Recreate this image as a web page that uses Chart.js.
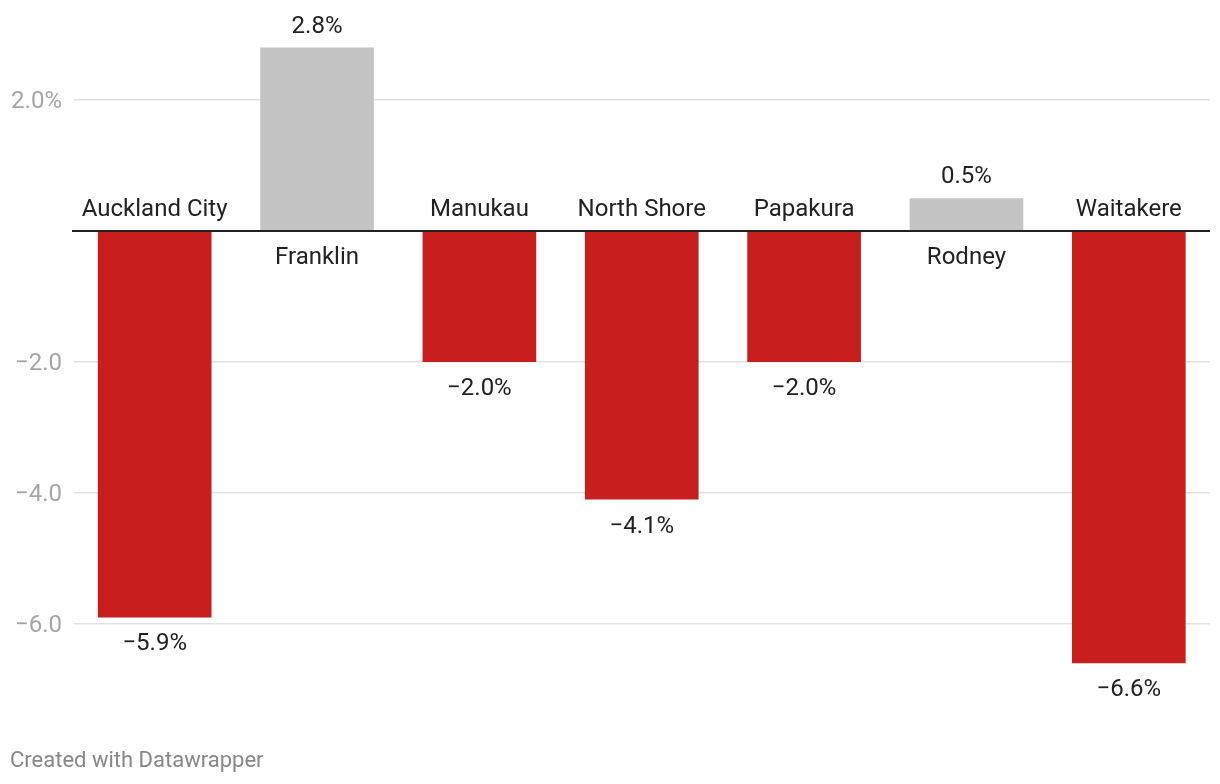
<!DOCTYPE html>
<html>
<head>
<meta charset="utf-8">
<script src="https://cdn.jsdelivr.net/npm/chart.js@4"></script>
<style>
  body { margin: 0; background: #fff; }
  canvas { display: block; }
</style>
</head>
<body>
<canvas id="chart" width="1220" height="784"></canvas>
<script>
const districts = ['Auckland City', 'Franklin', 'Manukau', 'North Shore', 'Papakura', 'Rodney', 'Waitakere']
const change = [-5.9, 2.8, -2.0, -4.1, -2.0, 0.5, -6.6]
const yTicks = [2, 0, -2, -4, -6]

const RED = '#c81e1e'
const GREY = '#c4c4c4'
const FONT = 'Roboto, "Noto Sans", sans-serif'

function fmtValue(v) {
  const s = Math.abs(v).toFixed(1) + '%'
  return v < 0 ? '\u2212' + s : s
}

const labelPlugin = {
  id: 'labelPlugin',
  afterDatasetsDraw(chart) {
    const ctx = chart.ctx
    const x = chart.scales.x
    const y = chart.scales.y
    const zero = y.getPixelForValue(0)

    // zero baseline
    ctx.save()
    ctx.strokeStyle = '#222'
    ctx.lineWidth = 2
    ctx.beginPath()
    ctx.moveTo(72, zero)
    ctx.lineTo(chart.chartArea.right, zero)
    ctx.stroke()

    ctx.font = '24px ' + FONT
    ctx.fillStyle = '#222'
    ctx.textAlign = 'center'
    ctx.textBaseline = 'alphabetic'
    districts.forEach((name, i) => {
      const cx = x.getPixelForValue(i)
      const v = change[i]
      const end = y.getPixelForValue(v)
      if (v >= 0) {
        ctx.fillText(fmtValue(v), cx, end - 15)
        ctx.fillText(name, cx, zero + 33)
      } else {
        ctx.fillText(name, cx, zero - 15)
        ctx.fillText(fmtValue(v), cx, end + 33)
      }
    })

    ctx.font = '22px ' + FONT
    ctx.fillStyle = '#888'
    ctx.textAlign = 'left'
    ctx.fillText('Created with Datawrapper', 10, 767)
    ctx.restore()
  }
}

new Chart(document.getElementById('chart'), {
  type: 'bar',
  data: {
    labels: districts,
    datasets: [{
      data: change,
      backgroundColor: change.map(v => v < 0 ? RED : GREY),
      categoryPercentage: 1,
      barPercentage: 0.7
    }]
  },
  options: {
    responsive: false,
    animation: false,
    layout: { padding: { left: 0, right: 10, top: 34.5, bottom: 94.5 } },
    plugins: { legend: { display: false }, tooltip: { enabled: false } },
    scales: {
      x: { display: false },
      y: {
        min: -7,
        max: 3,
        border: { display: false },
        afterFit(scale) { scale.width = 73.5 },
        afterBuildTicks(scale) { scale.ticks = yTicks.map(v => ({ value: v })) },
        grid: {
          drawTicks: false,
          lineWidth: 1.5,
          color: ctx => ctx.tick && ctx.tick.value === 0 ? 'rgba(0,0,0,0)' : '#e2e2e2'
        },
        ticks: {
          padding: 11.5,
          labelOffset: 2,
          color: '#a6a6a6',
          font: { family: FONT, size: 24 },
          callback: v => v === 0 ? '' : (v === 2 ? '2.0%' : (v < 0 ? '\u2212' + Math.abs(v).toFixed(1) : v.toFixed(1)))
        }
      }
    }
  },
  plugins: [labelPlugin]
})
</script>
</body>
</html>
